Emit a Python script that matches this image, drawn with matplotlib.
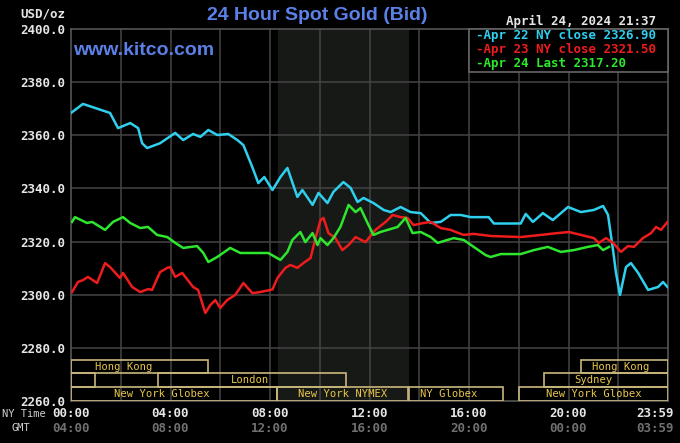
import matplotlib.pyplot as plt
from matplotlib.patches import Rectangle
from matplotlib.transforms import blended_transform_factory, offset_copy

# hours after 00:00 NY time, price in USD/oz
apr22_h = [0.0, 0.48, 1.57, 1.89, 2.38, 2.70, 2.86, 3.06, 3.58, 4.19, 4.51, 4.91, 5.20, 5.52,
           5.88, 6.32, 6.69, 6.93, 7.29, 7.53, 7.77, 8.10, 8.42, 8.70, 9.10, 9.30, 9.71, 9.95,
           10.31, 10.55, 10.95, 11.24, 11.52, 11.76, 12.16, 12.57, 12.85, 13.25, 13.65, 14.06,
           14.46, 14.86, 15.26, 15.67, 16.07, 16.79, 17.00, 18.08, 18.28, 18.57, 18.97, 19.37,
           19.98, 20.50, 21.02, 21.39, 21.59, 21.79, 21.91, 22.07, 22.31, 22.51, 22.80, 23.20,
           23.60, 23.80, 23.98]
apr22_v = [2368.4, 2371.8, 2368.4, 2362.7, 2364.6, 2362.7, 2357.0, 2355.2, 2357.0, 2360.9,
           2358.2, 2360.5, 2359.4, 2362.0, 2360.1, 2360.5, 2358.2, 2356.3, 2348.0, 2342.0,
           2344.3, 2339.4, 2344.3, 2347.7, 2336.8, 2339.4, 2333.8, 2338.3, 2334.5, 2338.7,
           2342.4, 2340.2, 2334.9, 2336.4, 2334.5, 2331.9, 2331.1, 2333.0, 2331.1, 2330.7,
           2327.0, 2327.4, 2330.0, 2330.0, 2329.2, 2329.2, 2326.8, 2326.8, 2330.4, 2327.4,
           2330.7, 2328.1, 2333.0, 2331.1, 2331.9, 2333.4, 2330.0, 2316.8, 2308.2, 2299.9,
           2310.4, 2311.9, 2308.2, 2301.8, 2302.9, 2304.8, 2302.9]

apr23_h = [0.04, 0.28, 0.48, 0.68, 1.05, 1.37, 1.57, 1.97, 2.09, 2.46, 2.78, 3.10, 3.26, 3.58,
           3.87, 3.99, 4.19, 4.47, 4.91, 5.11, 5.40, 5.60, 5.80, 6.00, 6.28, 6.60, 6.93, 7.29,
           7.61, 8.10, 8.30, 8.62, 8.82, 9.10, 9.34, 9.63, 9.83, 10.03, 10.15, 10.35, 10.63,
           10.91, 11.16, 11.44, 11.84, 12.24, 12.65, 12.93, 13.25, 13.53, 13.77, 14.18, 14.46,
           14.86, 15.26, 15.47, 15.79, 16.19, 16.87, 18.08, 18.89, 19.57, 20.02, 20.50, 21.02,
           21.22, 21.51, 21.79, 22.11, 22.39, 22.63, 22.99, 23.32, 23.52, 23.72, 23.98]
apr23_v = [2301.0, 2304.8, 2305.5, 2306.7, 2304.4, 2311.9, 2310.4, 2306.3, 2308.2, 2302.9,
           2301.0, 2302.1, 2301.8, 2308.5, 2310.1, 2310.4, 2306.7, 2308.2, 2302.9, 2301.8,
           2293.1, 2296.1, 2298.0, 2295.0, 2298.0, 2299.9, 2304.4, 2300.6, 2301.0, 2302.0,
           2306.3, 2310.1, 2311.2, 2310.1, 2311.9, 2313.8, 2321.3, 2328.1, 2328.9, 2323.2,
           2321.3, 2316.8, 2318.7, 2321.7, 2319.8, 2324.4, 2327.4, 2330.0, 2329.2, 2328.9,
           2326.2, 2327.0, 2327.4, 2325.1, 2324.4, 2323.6, 2322.5, 2322.9, 2322.1, 2321.7,
           2322.5, 2323.2, 2323.6, 2322.5, 2321.3, 2319.5, 2321.3, 2319.5, 2316.1, 2318.3,
           2318.0, 2321.3, 2323.2, 2325.5, 2324.4, 2327.4]

apr24_h = [0.04, 0.16, 0.64, 0.85, 1.37, 1.69, 2.09, 2.38, 2.78, 3.10, 3.46, 3.87, 4.19, 4.51,
           5.07, 5.32, 5.52, 5.88, 6.40, 6.81, 7.13, 7.61, 7.93, 8.42, 8.70, 8.90, 9.22, 9.42,
           9.71, 9.91, 10.03, 10.31, 10.55, 10.83, 11.16, 11.44, 11.64, 11.92, 12.16, 12.44,
           12.73, 13.13, 13.45, 13.73, 14.06, 14.46, 14.74, 15.38, 15.79, 16.19, 16.67, 16.87,
           17.28, 18.08, 18.61, 19.17, 19.69, 20.22, 20.78, 21.18, 21.39, 21.63]
apr24_v = [2327.4, 2329.2, 2327.0, 2327.4, 2324.4, 2327.4, 2329.2, 2327.0, 2325.1, 2325.5,
           2322.5, 2321.7, 2319.5, 2317.6, 2318.3, 2315.7, 2312.3, 2314.2, 2317.6, 2315.7,
           2315.7, 2315.7, 2315.7, 2313.1, 2316.1, 2320.6, 2323.6, 2319.8, 2323.2, 2318.7,
           2321.3, 2318.7, 2321.3, 2325.5, 2333.8, 2331.1, 2332.6, 2327.0, 2322.5, 2323.6,
           2324.4, 2325.5, 2328.9, 2323.2, 2323.6, 2321.7, 2319.5, 2321.3, 2320.6, 2318.0,
           2314.9, 2314.2, 2315.3, 2315.3, 2316.8, 2318.0, 2316.1, 2316.8, 2318.0, 2318.7,
           2316.8, 2318.0]

legend_lines = ['Apr 22 NY close 2326.90', 'Apr 23 NY close 2321.50', 'Apr 24 Last 2317.20']

yticks = [2260, 2280, 2300, 2320, 2340, 2360, 2380, 2400]
xticks = [0, 4, 8, 12, 16, 20, 23.983]
ny_labels = ['00:00', '04:00', '08:00', '12:00', '16:00', '20:00', '23:59']
gmt_labels = ['04:00', '08:00', '12:00', '16:00', '20:00', '00:00', '03:59']

# (row, start, end, label, label position)
sessions = [
    (0, 0.0, 5.5, 'Hong Kong', 2.13),
    (0, 20.5, 23.983, 'Hong Kong', 22.1),
    (1, 0.0, 0.97, '', 0),
    (1, 3.5, 11.05, 'London', 7.2),
    (1, 19.0, 23.983, 'Sydney', 21.0),
    (2, 0.0, 8.3, 'New York Globex', 3.66),
    (2, 8.3, 13.55, 'New York NYMEX', 10.9),
    (2, 13.6, 17.35, 'NY Globex', 15.2),
    (2, 18.0, 23.983, 'New York Globex', 21.0),
]
row_bounds = [(2270.5, 2275.4), (2265.3, 2270.5), (2260.0, 2265.3)]

cyan = '#2fcfee'
red = '#ee1c1c'
green = '#2ee62e'
blue = '#5b80e8'
mono = 'DejaVu Sans Mono'

fig = plt.figure(figsize=(6.8, 4.43), dpi=100, facecolor='black')
ax = fig.add_axes([71 / 680, 42 / 443, 597 / 680, 372 / 443])
ax.set_facecolor('black')

ax.axvspan(8.33, 13.55, color='#161916', zorder=0)
for t in range(2, 24, 2):
    ax.axvline(t, color='#444444', lw=1.1, zorder=1)
for v in yticks[1:-1]:
    ax.axhline(v, color='#444444', lw=1.1, zorder=1)

ax.plot(apr22_h, apr22_v, color=cyan, lw=1.8, zorder=3)
ax.plot(apr23_h, apr23_v, color=red, lw=1.8, zorder=3)
ax.plot(apr24_h, apr24_v, color=green, lw=1.8, zorder=4)

for row, t0, t1, name, tx in sessions:
    lo, hi = row_bounds[row]
    ax.add_patch(Rectangle((t0, lo), t1 - t0, hi - lo, fill=False,
                           edgecolor='#c9b77c', lw=1.2, zorder=5))
    if name:
        ax.text(tx, (lo + hi) / 2, name, color='#e8c64a', fontsize=7.6,
                family=mono, ha='center', va='center', zorder=6)

ax.set_xlim(0, 24)
ax.set_ylim(2260, 2400)
ax.set_yticks(yticks)
ax.set_yticklabels(['%.1f' % v for v in yticks])
ax.set_xticks(xticks)
ax.set_xticklabels(ny_labels)
ax.tick_params(length=0, colors='#e6e6e6', labelsize=9)
ax.tick_params(axis='y', pad=4)
ax.tick_params(axis='x', pad=4)
for lbl in ax.get_xticklabels() + ax.get_yticklabels():
    lbl.set_family(mono)
    lbl.set_fontweight('bold')
for s in ax.spines.values():
    s.set_color('#555555')
    s.set_linewidth(1.2)
# last time label sits left of its tick so it stays inside the picture
last = ax.get_xticklabels()[-1]
last.set_transform(offset_copy(last.get_transform(), fig=fig, x=-13, units='dots'))

trans = blended_transform_factory(ax.transData, fig.transFigure)
for t, lab in zip(xticks, gmt_labels):
    dx = -13 if lab == '03:59' else 0
    ax.text(t, 15 / 443, lab, color='#707070', fontsize=9, family=mono, fontweight='bold',
            ha='center', va='center',
            transform=offset_copy(trans, fig=fig, x=dx, units='dots'))
fig.text(2 / 680, 29 / 443, 'NY Time', color='#d0d0d0', fontsize=7.5, family=mono,
         ha='left', va='center')
fig.text(12 / 680, 15 / 443, 'GMT', color='#d0d0d0', fontsize=7.5, family=mono,
         ha='left', va='center')

fig.text(20 / 680, 429 / 443, 'USD/oz', color='#e6e6e6', fontsize=9, family=mono,
         fontweight='bold', ha='left', va='center')
fig.text(317 / 680, 428 / 443, '24 Hour Spot Gold (Bid)', color=blue, fontsize=14,
         family='Liberation Sans', fontweight='bold', ha='center', va='center')
fig.text(581 / 680, 422 / 443, 'April 24, 2024 21:37', color='#e6e6e6', fontsize=9,
         family=mono, fontweight='bold', ha='center', va='center')
ax.text(0.004, 0.9435, 'www.kitco.com', transform=ax.transAxes, color=blue, fontsize=14,
        family='Liberation Sans', fontweight='bold', ha='left', va='center', zorder=6)

# legend box in the top right corner
lx0, ly0 = 469 / 680, (443 - 72) / 443
fig.patches.append(Rectangle((lx0, ly0), 668 / 680 - lx0, 414 / 443 - ly0,
                             transform=fig.transFigure, facecolor='black',
                             edgecolor='#666666', lw=1.2, zorder=10))
for i, (txt, col) in enumerate(zip(legend_lines, [cyan, red, green])):
    fig.text(476 / 680, (443 - 36 - 13.5 * i) / 443, '-' + txt, color=col, fontsize=9,
             family=mono, fontweight='bold', ha='left', va='center', zorder=11)

fig.savefig('out.png', dpi=100, facecolor='black')
